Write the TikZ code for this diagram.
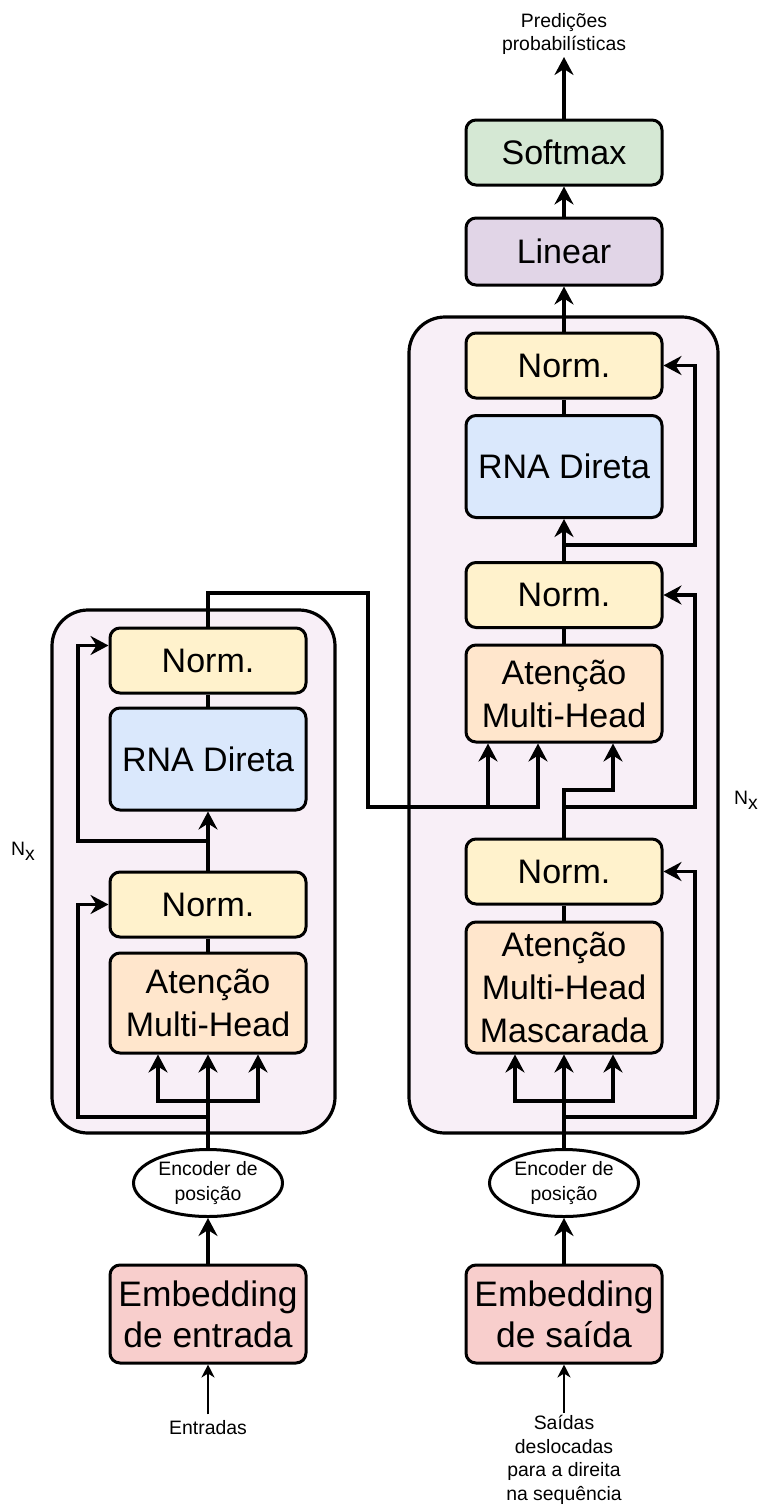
\documentclass[tikz,border=0pt]{standalone}
\usepackage{fontspec}
\setmainfont{Liberation Sans}
\usetikzlibrary{arrows.meta,shapes.geometric}

\definecolor{normfill}{HTML}{FFF2CC}
\definecolor{ffnfill}{HTML}{DAE8FC}
\definecolor{attfill}{HTML}{FFE6CC}
\definecolor{embfill}{HTML}{F8CECC}
\definecolor{softfill}{HTML}{D5E8D4}
\definecolor{linfill}{HTML}{E1D5E7}
\definecolor{stackfill}{HTML}{F8EFF7}

\begin{document}
\begin{tikzpicture}[
	x=0.5pt, y=-0.5pt,
	block/.style={draw, line width=1.5pt, rounded corners=5pt, minimum width=98pt,
		inner sep=0pt, align=center, font=\fontsize{17}{21.5}\selectfont},
	norm box/.style={block, fill=normfill, minimum height=32.5pt},
	ffn box/.style={block, fill=ffnfill, minimum height=51pt},
	att box/.style={block, fill=attfill},
	embed box/.style={block, fill=embfill, minimum height=49pt,
		font=\fontsize{17.7}{20.5}\selectfont},
	pos enc/.style={draw, ellipse, line width=1.5pt, fill=white, minimum width=74.5pt,
		minimum height=33.5pt, inner sep=0pt, align=center,
		font=\fontsize{9.7}{12.5}\selectfont},
	small text/.style={inner sep=1pt, align=center, font=\fontsize{9.7}{11.75}\selectfont},
	stack/.style={draw, line width=1.6pt, fill=stackfill, rounded corners=18pt},
	plain/.style={line width=1.6pt},
	link/.style={line width=1.6pt, -{Stealth[length=9pt,width=9.5pt,inset=3pt]}},
	main line/.style={line width=2.1pt, -{Stealth[length=9pt,width=9.5pt,inset=3pt]}},
	thin link/.style={line width=0.7pt, -{Stealth[length=6.5pt,width=6.5pt,inset=2pt]}}
	]
	\useasboundingbox (0,0) rectangle (763,1510);
	% stacks
	\draw[stack] (52,610) rectangle (335,1133);
	\draw[stack] (409,317) rectangle (718,1133);
	% encoder
	\node[embed box] (emb_in) at (208,1314) {Embedding\\de entrada};
	\node[pos enc] (pe_in) at (208,1183) {Encoder de\\posição};
	\node[att box, minimum height=50pt] (att_in) at (208,1003) {Atenção\\Multi-Head};
	\node[norm box] (norm1_in) at (208,904.5) {Norm.};
	\node[ffn box] (ffn_in) at (208,759) {RNA Direta};
	\node[norm box] (norm2_in) at (208,660.5) {Norm.};
	% decoder
	\node[embed box] (emb_out) at (564,1314) {Embedding\\de saída};
	\node[pos enc] (pe_out) at (564,1183) {Encoder de\\posição};
	\node[att box, minimum height=65.5pt] (mask_att) at (564,987.5) {Atenção\\Multi-Head\\Mascarada};
	\node[norm box] (norm1_out) at (564,871.5) {Norm.};
	\node[att box, minimum height=48.5pt] (att_out) at (564,693.5) {Atenção\\Multi-Head};
	\node[norm box] (norm2_out) at (564,595) {Norm.};
	\node[ffn box] (ffn_out) at (564,466.5) {RNA Direta};
	\node[norm box] (norm3_out) at (564,365.5) {Norm.};
	\node[block, fill=linfill, minimum height=33.5pt] (linear) at (564,251.5) {Linear};
	\node[block, fill=softfill, minimum height=32.5pt] (softmax) at (564,152.5) {Softmax};
	% texts
	\node[small text, anchor=south] (pred) at (564,57) {Predições\\probabilísticas};
	\node[small text, inner sep=3pt] (inputs) at (208,1428) {Entradas};
	\node[small text, anchor=north] (outputs) at (564,1413) {Saídas\\deslocadas\\para a direita\\na sequência};
	\node[small text] (nx_in) at (23,851) {N\raisebox{-2.5pt}{x}};
	\node[small text] (nx_out) at (746,800) {N\raisebox{-2.5pt}{x}};
	% split points
	\coordinate (split_in) at (208,1101);
	\coordinate (res1_in) at (208,1117);
	\coordinate (res2_in) at (208,841);
	\coordinate (mem_top) at (368,593);
	\coordinate (mem_bot) at (368,807);
	\coordinate (split_out) at (564,1101);
	\coordinate (res1_out) at (564,1117);
	\coordinate (res2_out) at (564,807);
	\coordinate (dec_split) at (564,790);
	\coordinate (res3_out) at (564,545);
	% encoder lines
	\draw[thin link] (inputs) -- (emb_in);
	\draw[main line] (emb_in) -- (pe_in);
	\draw[main line] (pe_in) -- (att_in);
	\draw[link] (split_in) -| ([xshift=-25pt]att_in.south);
	\draw[link] (split_in) -| ([xshift=25pt]att_in.south);
	\draw[link] (res1_in) -- ++(-65pt,0) |- (norm1_in.west);
	\draw[plain] (att_in) -- (norm1_in);
	\draw[link] (norm1_in) -- (ffn_in);
	\draw[link] (res2_in) -- ++(-65pt,0) |- ([yshift=7.5pt]norm2_in.west);
	\draw[plain] (ffn_in) -- (norm2_in);
	\draw[link] (norm2_in.north) |- (mem_top) -- (mem_bot) -| ([xshift=-13pt]att_out.south);
	\draw[link] (mem_bot) -| ([xshift=-38pt]att_out.south);
	% decoder lines
	\draw[thin link] (outputs) -- (emb_out);
	\draw[main line] (emb_out) -- (pe_out);
	\draw[main line] (pe_out) -- (mask_att);
	\draw[link] (split_out) -| ([xshift=-24.5pt]mask_att.south);
	\draw[link] (split_out) -| ([xshift=24.5pt]mask_att.south);
	\draw[link] (res1_out) -- ++(65.5pt,0) |- (norm1_out.east);
	\draw[plain] (mask_att) -- (norm1_out);
	\draw[link] (norm1_out.north) -- (dec_split) -| ([xshift=24.5pt]att_out.south);
	\draw[link] (res2_out) -- ++(65.5pt,0) |- (norm2_out.east);
	\draw[plain] (att_out) -- (norm2_out);
	\draw[link] (norm2_out) -- (ffn_out);
	\draw[link] (res3_out) -- ++(65.5pt,0) |- (norm3_out.east);
	\draw[plain] (ffn_out) -- (norm3_out);
	\draw[link] (norm3_out) -- (linear);
	\draw[link] (linear) -- (softmax);
	\draw[link] (softmax) -- (pred);
\end{tikzpicture}
\end{document}
